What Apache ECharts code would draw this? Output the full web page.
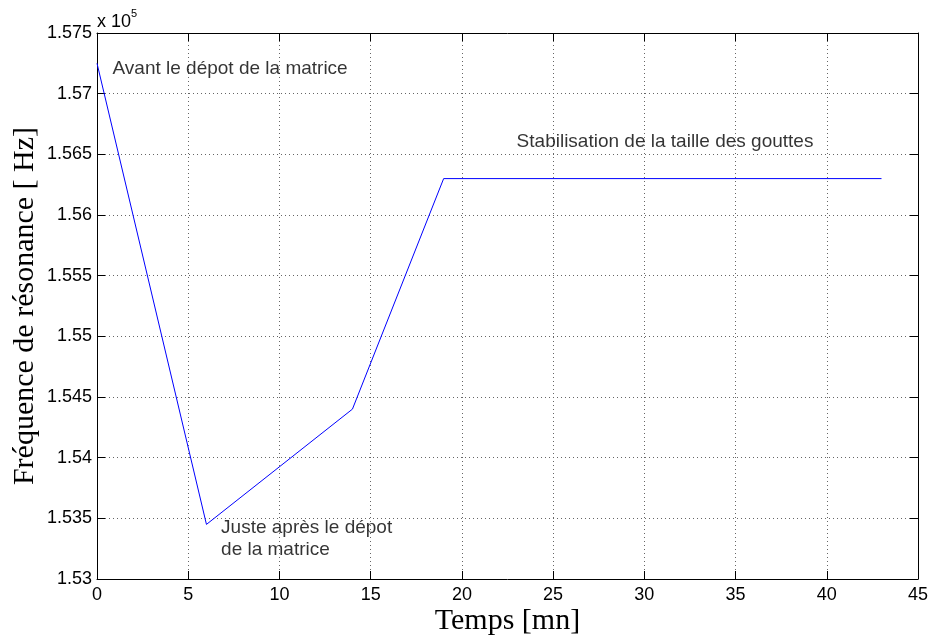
<!DOCTYPE html>
<html><head><meta charset="utf-8">
<script src="https://cdn.jsdelivr.net/npm/echarts@6/dist/echarts.min.js"></script>
<style>html,body{margin:0;padding:0;background:#fff}#c{width:930px;height:637px}</style>
</head><body><div id="c"></div>
<script>
// Data (time in minutes, frequency in Hz)
const timeMin = [0, 6, 14, 19, 43];
const freqHz = [157250, 153450, 154400, 156300, 156300];
const xTicks = [0, 5, 10, 15, 20, 25, 30, 35, 40, 45];
const yTicks = [153000, 153500, 154000, 154500, 155000, 155500, 156000, 156500, 157000, 157500];
const annotations = [
  {x: 0.85, y: 157205, text: 'Avant le dépot de la matrice'},
  {x: 6.8, y: 153335, text: 'Juste après le dépot\nde la matrice'},
  {x: 23.0, y: 156600, text: 'Stabilisation de la taille des gouttes'}
];

const chart = echarts.init(document.getElementById('c'), null, {renderer: 'canvas'});
const fontSans = 'Liberation Sans, Arial, Helvetica, sans-serif';
const fontSerif = 'Liberation Serif, Times New Roman, serif';
const gridLine = {show: true, lineStyle: {color: '#666', type: [1, 3], width: 1}};

const option = {
  backgroundColor: '#fff',
  animation: false,
  grid: {left: 97, right: 12, top: 33, bottom: 58, containLabel: false, outerBoundsMode: 'none'},
  xAxis: [{
    type: 'value', min: xTicks[0], max: xTicks[xTicks.length - 1], interval: 5,
    name: 'Temps [mn]', nameLocation: 'middle', nameGap: 27, nameMoveOverlap: false,
    nameTextStyle: {fontFamily: fontSerif, fontSize: 30, color: '#000'},
    axisLine: {show: true, onZero: false, lineStyle: {color: '#000', width: 1}},
    axisTick: {show: true, inside: true, length: 8, lineStyle: {color: '#000'}},
    axisLabel: {fontFamily: fontSans, fontSize: 18, color: '#000', margin: 7},
    splitLine: gridLine
  }, {
    type: 'value', position: 'top', min: xTicks[0], max: xTicks[xTicks.length - 1], interval: 5,
    axisLine: {show: true, onZero: false, lineStyle: {color: '#000', width: 1}},
    axisTick: {show: true, inside: true, length: 8, lineStyle: {color: '#000'}},
    axisLabel: {show: false}, splitLine: {show: false}
  }],
  yAxis: [{
    type: 'value', min: yTicks[0], max: yTicks[yTicks.length - 1], interval: 500,
    name: 'Fréquence de résonance [ Hz]', nameLocation: 'middle', nameGap: 57, nameMoveOverlap: false,
    nameTextStyle: {fontFamily: fontSerif, fontSize: 30, color: '#000'},
    axisLine: {show: true, onZero: false, lineStyle: {color: '#000', width: 1}},
    axisTick: {show: true, inside: true, length: 8, lineStyle: {color: '#000'}},
    axisLabel: {fontFamily: fontSans, fontSize: 18, color: '#000', margin: 5,
      formatter: v => String(+(v / 1e5).toFixed(4))},
    splitLine: gridLine
  }, {
    type: 'value', position: 'right', min: yTicks[0], max: yTicks[yTicks.length - 1], interval: 500,
    axisLine: {show: true, onZero: false, lineStyle: {color: '#000', width: 1}},
    axisTick: {show: true, inside: true, length: 8, lineStyle: {color: '#000'}},
    axisLabel: {show: false}, splitLine: {show: false}
  }],
  graphic: [{
    type: 'text', x: 97, y: 22,
    style: {text: 'x 10', fontFamily: fontSans, fontSize: 18, fill: '#000', verticalAlign: 'middle'}
  }, {
    type: 'text', x: 131, y: 14,
    style: {text: '5', fontFamily: fontSans, fontSize: 11, fill: '#000', verticalAlign: 'middle'}
  }],
  series: [{
    type: 'line',
    data: timeMin.map((t, i) => [t, freqHz[i]]),
    showSymbol: false, symbol: 'none',
    lineStyle: {color: '#0000ff', width: 1},
    z: 5
  }, {
    type: 'scatter',
    data: annotations.map(a => ({value: [a.x, a.y], label: {formatter: a.text}})),
    symbolSize: 0,
    silent: true,
    label: {show: true, position: 'right', distance: 0, align: 'left', verticalAlign: 'middle',
      fontFamily: fontSans, fontSize: 19, color: '#000', lineHeight: 22}
  }]
};
chart.setOption(option);
</script></body></html>
